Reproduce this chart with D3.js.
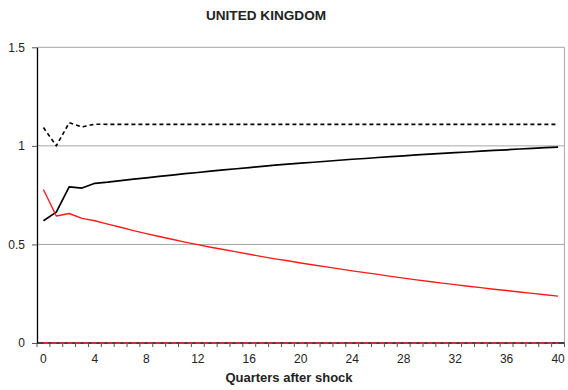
<!DOCTYPE html>
<html>
<head>
<meta charset="utf-8">
<script src="https://cdn.jsdelivr.net/npm/d3@7"></script>
<style>
  html, body { margin: 0; padding: 0; background: #fff; }
  svg { display: block; font-family: "Liberation Sans", Arial, sans-serif; }
</style>
</head>
<body>
<svg id="chart" width="568" height="390"></svg>
<script>
// Quarters after the shock (category axis)
const quarters = d3.range(0, 41);
const xTickLabels = [0, 4, 8, 12, 16, 20, 24, 28, 32, 36, 40];
const yTickValues = [0, 0.5, 1, 1.5];

// Response paths
const blackSolid = [0.620, 0.664, 0.792, 0.786, 0.810, 0.816, 0.824, 0.831, 0.838, 0.845,
  0.852, 0.859, 0.865, 0.872, 0.878, 0.884, 0.890, 0.896, 0.902, 0.907,
  0.912, 0.917, 0.922, 0.927, 0.932, 0.936, 0.941, 0.945, 0.949, 0.954,
  0.958, 0.962, 0.966, 0.969, 0.973, 0.977, 0.980, 0.984, 0.987, 0.991, 0.994];
const blackDashed = [1.093, 1.000, 1.117, 1.096, 1.110, 1.109, 1.109, 1.109, 1.109, 1.109,
  1.109, 1.109, 1.109, 1.109, 1.109, 1.109, 1.109, 1.109, 1.109, 1.109,
  1.109, 1.109, 1.109, 1.109, 1.109, 1.109, 1.109, 1.109, 1.109, 1.109,
  1.109, 1.109, 1.109, 1.109, 1.109, 1.109, 1.109, 1.109, 1.109, 1.109, 1.109];
const redSolid = [0.779, 0.644, 0.657, 0.632, 0.620, 0.603, 0.587, 0.570, 0.555, 0.540,
  0.526, 0.512, 0.499, 0.486, 0.474, 0.462, 0.450, 0.438, 0.427, 0.417,
  0.406, 0.396, 0.386, 0.376, 0.366, 0.357, 0.348, 0.338, 0.329, 0.320,
  0.312, 0.304, 0.296, 0.288, 0.281, 0.273, 0.266, 0.259, 0.252, 0.245, 0.238];
const redDashed = [0, 0, 0, 0, 0, 0, 0, 0, 0, 0,
  0, 0, 0, 0, 0, 0, 0, 0, 0, 0,
  0, 0, 0, 0, 0, 0, 0, 0, 0, 0,
  0, 0, 0, 0, 0, 0, 0, 0, 0, 0, 0];

const svg = d3.select("#chart");
const plot = { left: 37, right: 564.5, top: 47.3, bottom: 343 };

const x = d3.scalePoint().domain(quarters).range([plot.left, plot.right]).padding(0.5);
const step = x.step();
const y = d3.scaleLinear().domain([0, 1.5]).range([plot.bottom, plot.top]);

// Horizontal gridlines
svg.append("g").selectAll("line")
  .data(yTickValues.filter(v => v > 0))
  .join("line")
  .attr("x1", plot.left).attr("x2", plot.right)
  .attr("y1", d => y(d)).attr("y2", d => y(d))
  .attr("stroke", "#a6a6a6").attr("stroke-width", 1);

// Right border of the plot area
svg.append("line")
  .attr("x1", plot.right).attr("x2", plot.right)
  .attr("y1", plot.top).attr("y2", plot.bottom)
  .attr("stroke", "#b4b4b4").attr("stroke-width", 1.2);

// Y axis
const yAxis = d3.axisLeft(y).tickValues(yTickValues)
  .tickFormat(d3.format("")).tickSizeInner(5).tickSizeOuter(0).tickPadding(7);
const gy = svg.append("g").attr("transform", `translate(${plot.left},0)`).call(yAxis);
gy.select(".domain").attr("stroke", "#000").attr("stroke-width", 1.3);
gy.selectAll(".tick line").attr("stroke", "#555");
gy.selectAll(".tick text").attr("font-size", 12).attr("fill", "#222")
  .attr("font-family", "Liberation Sans, Arial, sans-serif");

// X axis: tick marks sit on category boundaries, labels every fourth quarter
const boundaries = d3.range(0, quarters.length + 1).map(i => plot.left + i * step);
const gx = svg.append("g");
gx.append("line")
  .attr("x1", plot.left).attr("x2", plot.right)
  .attr("y1", plot.bottom).attr("y2", plot.bottom)
  .attr("stroke", "#000").attr("stroke-width", 1.3);
gx.selectAll("line.tk").data(boundaries).join("line").attr("class", "tk")
  .attr("x1", d => d).attr("x2", d => d)
  .attr("y1", plot.bottom).attr("y2", plot.bottom + 4)
  .attr("stroke", "#555").attr("stroke-width", 1);
gx.selectAll("text").data(xTickLabels).join("text")
  .attr("x", d => x(d)).attr("y", plot.bottom + 20)
  .attr("text-anchor", "middle").attr("font-size", 12).attr("fill", "#222")
  .text(d => d);

// Series
const line = d3.line().x((d, i) => x(quarters[i])).y(d => y(d));
const series = [
  { values: blackDashed, color: "#000", width: 1.6, dash: "4,3" },
  { values: blackSolid, color: "#000", width: 1.7, dash: null },
  { values: redSolid, color: "#ff1a1a", width: 1.4, dash: null },
  { values: redDashed, color: "#ff2a2a", width: 1.6, dash: "5,3" }
];
svg.append("g").selectAll("path").data(series).join("path")
  .attr("d", d => line(d.values))
  .attr("fill", "none")
  .attr("stroke", d => d.color)
  .attr("stroke-width", d => d.width)
  .attr("stroke-dasharray", d => d.dash)
  .attr("stroke-linejoin", "round");

// Titles
svg.append("text").attr("x", 266).attr("y", 20)
  .attr("text-anchor", "middle").attr("font-size", 13.6).attr("font-weight", "bold")
  .attr("fill", "#222").text("UNITED KINGDOM");
svg.append("text").attr("x", 289).attr("y", 382)
  .attr("text-anchor", "middle").attr("font-size", 13).attr("font-weight", "bold")
  .attr("fill", "#222").text("Quarters after shock");
</script>
</body>
</html>
